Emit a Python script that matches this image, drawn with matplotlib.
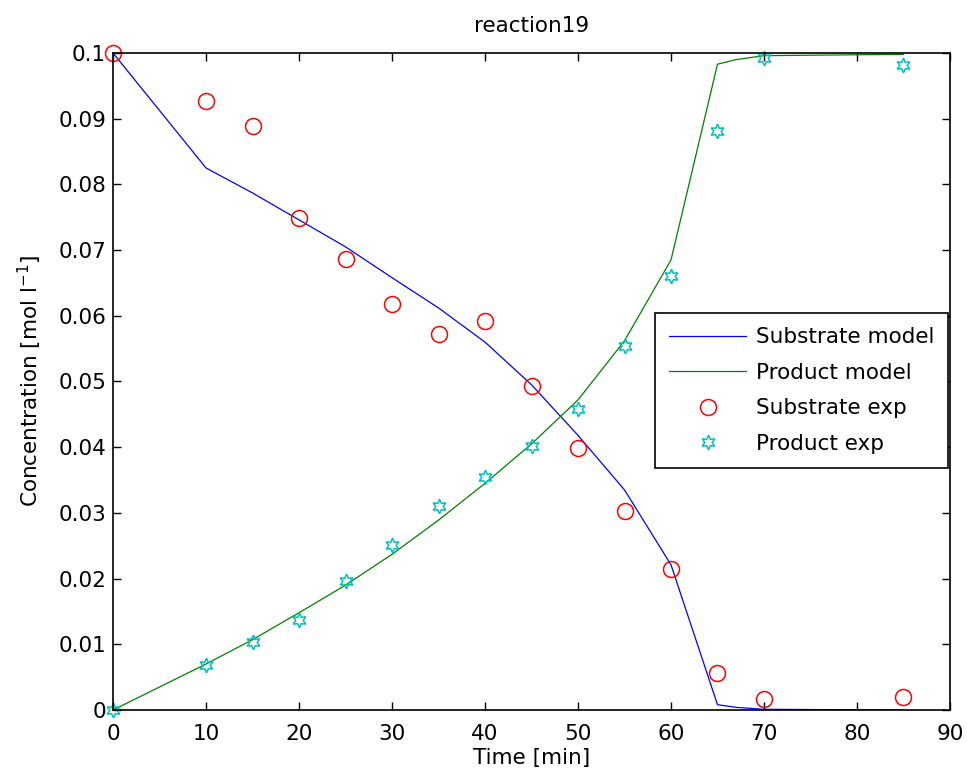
import matplotlib
matplotlib.use("Agg")
import matplotlib.pyplot as plt
import numpy as np

plt.rcParams["font.family"] = ["DejaVu Sans"]
plt.rcParams["mathtext.default"] = "regular"

# measured time points [min]
time_exp = [0, 10, 15, 20, 25, 30, 35, 40, 45, 50, 55, 60, 65, 70, 85]
substrate_exp = [0.1, 0.0927, 0.0889, 0.0749, 0.0686, 0.0618, 0.0572, 0.0592,
                 0.0493, 0.0399, 0.0303, 0.0215, 0.0056, 0.0017, 0.0020]
product_exp = [0.0, 0.0068, 0.0104, 0.0137, 0.0196, 0.0251, 0.0310, 0.0355,
               0.0402, 0.0458, 0.0554, 0.0660, 0.0881, 0.0992, 0.0982]

# fitted model evaluated on the same time grid
time_model = [0, 10, 15, 20, 25, 30, 35, 40, 45, 50, 55, 60, 65, 67, 70, 85]
substrate_model = [0.1, 0.0825, 0.0787, 0.0746, 0.0705, 0.0658, 0.0612, 0.0560,
                   0.0495, 0.0418, 0.0335, 0.0221, 0.0008, 0.0004, 0.0001, 0.0]
product_model = [0.0, 0.0070, 0.0107, 0.0148, 0.0190, 0.0237, 0.0289, 0.0345,
                 0.0405, 0.0472, 0.0562, 0.0685, 0.0983, 0.0990, 0.0996, 0.0998]

x_ticks = np.arange(0, 91, 10)
y_ticks = np.round(np.arange(0, 0.1001, 0.01), 2)
y_labels = ["0"] + [f"{v:g}" for v in y_ticks[1:]]

FS = 15.5

fig = plt.figure(figsize=(9.67, 7.82), dpi=100)
ax = fig.add_axes([0.1169, 0.0921, 0.8655, 0.8401])

ax.plot(time_model, substrate_model, color="#0000ff", lw=0.9, label="Substrate model")
ax.plot(time_model, product_model, color="#008000", lw=0.9, label="Product model")
ax.plot(time_exp, substrate_exp, ls="none", marker="o", ms=11.5, mfc="none",
        mec="#ff0000", mew=1.1, label="Substrate exp", clip_on=False)
ax.plot(time_exp, product_exp, ls="none", marker=(6, 1, 0), ms=10.5, mfc="none",
        mec="#00bfbf", mew=1.1, label="Product exp", clip_on=False)

ax.set_xlim(0, 90)
ax.set_ylim(0, 0.1)
ax.set_xticks(x_ticks)
ax.set_yticks(y_ticks)
ax.set_yticklabels(y_labels)
ax.tick_params(direction="in", length=6, width=1, labelsize=FS, top=True, right=True)
ax.tick_params(axis="x", pad=10)
ax.tick_params(axis="y", pad=5)
for spine in ax.spines.values():
    spine.set_linewidth(1.2)

ax.set_xlabel("Time [min]", fontsize=FS, labelpad=3)
ax.set_ylabel("Concentration [mol l$^{-1}$]", fontsize=FS, labelpad=10)
ax.set_title("reaction19", fontsize=FS, pad=15)

leg = ax.legend(loc="upper right", bbox_to_anchor=(0.998, 0.604), borderaxespad=0,
                fancybox=False, edgecolor="black", fontsize=FS, handlelength=3.6,
                handletextpad=0.45, labelspacing=0.72, borderpad=0.65, framealpha=1)
leg.get_frame().set_linewidth(1.2)

fig.savefig("out.png", dpi=100)
